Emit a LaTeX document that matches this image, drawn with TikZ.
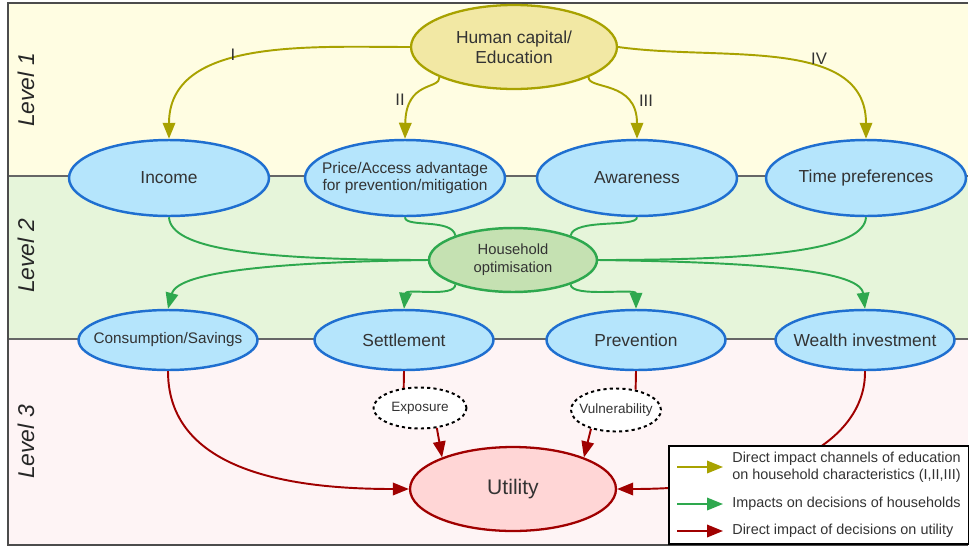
\documentclass[tikz,border=0pt]{standalone}
\usepackage{fontspec}
\setmainfont{Liberation Sans}
\usetikzlibrary{shapes.geometric,arrows.meta}
\definecolor{olivel}{HTML}{A8A200}
\definecolor{capf}{HTML}{F2E8A4}
\definecolor{greenl}{HTML}{2EA84E}
\definecolor{optf}{HTML}{C5E1B2}
\definecolor{redl}{HTML}{A00000}
\definecolor{utilf}{HTML}{FFD6D6}
\definecolor{bluel}{HTML}{1F6FD0}
\definecolor{bluef}{HTML}{B5E5FC}
\definecolor{bandI}{HTML}{FFFDE2}
\definecolor{bandII}{HTML}{E6F5DA}
\definecolor{bandIII}{HTML}{FEF4F5}
\definecolor{txt}{HTML}{333333}
\tikzstyle{yarr}=[draw=olivel, line width=1.1pt, -{Triangle[length=0.32cm,width=0.25cm]}]
\tikzstyle{gline}=[draw=greenl, line width=1.1pt]
\tikzstyle{garr}=[gline, -{Triangle[length=0.32cm,width=0.25cm]}]
\tikzstyle{rline}=[draw=redl, line width=1.1pt]
\tikzstyle{rarr}=[rline, -{Triangle[length=0.32cm,width=0.25cm]}]
\tikzstyle{oval}=[ellipse, inner ysep=0pt, inner xsep=-9pt, align=center, text=txt]

\begin{document}
\begin{tikzpicture}[x=0.02cm, y=0.02cm,
	hcap/.style={oval, draw=olivel, fill=capf, line width=1.3pt, minimum width=4.12cm, minimum height=1.68cm, font=\fontsize{9.9}{11.6}\selectfont},
	hhchar/.style={oval, draw=bluel, fill=bluef, line width=1.4pt, minimum width=4cm, minimum height=1.52cm, font=\fontsize{9.9}{11}\selectfont},
	decis/.style={oval, draw=bluel, fill=bluef, line width=1.4pt, minimum width=3.58cm, minimum height=1.2cm, font=\fontsize{9.9}{11}\selectfont},
	hopt/.style={oval, draw=greenl, fill=optf, line width=1.4pt, minimum width=3.36cm, minimum height=1.28cm, font=\fontsize{8.4}{10.2}\selectfont},
	link/.style={oval, draw=black, fill=white, line width=1.1pt, dash pattern=on 1.8pt off 1.8pt, minimum width=1.86cm, minimum height=0.82cm, font=\fontsize{7.7}{9}\selectfont},
	util/.style={oval, draw=redl, fill=utilf, line width=1.3pt, minimum width=4.12cm, minimum height=1.68cm, font=\fontsize{12}{14}\selectfont},
	lvl/.style={rotate=90, text=black!85, font=\fontsize{13}{15}\selectfont\itshape},
	chan/.style={text=txt, font=\fontsize{9.5}{11}\selectfont},
	legtxt/.style={anchor=west, inner sep=0pt, align=left, text=txt, font=\fontsize{8.2}{9.8}\selectfont}]
	\useasboundingbox (0,0) rectangle (969,-548);
	\fill[bandI] (8,-3) rectangle (968,-176);
	\fill[bandII] (8,-176) rectangle (968,-339);
	\fill[bandIII] (8,-339) rectangle (968,-545);
	\draw[black!60, line width=0.8pt] (8,-176) -- (968,-176) (8,-339) -- (968,-339);
	\draw[black!70, line width=0.8pt] (968,-3) -- (8,-3) -- (8,-545) -- (968,-545);
	\node[lvl] (l1) at (26,-90) {Level 1};
	\node[lvl] (l2) at (26,-256) {Level 2};
	\node[lvl] (l3) at (26,-442) {Level 3};

	\node[hcap] (hc) at (514,-47) {Human capital/\\Education};
	\node[hhchar] (inc) at (169,-178) {Income};
	\node[hhchar, font=\fontsize{8.8}{10.2}\selectfont] (pac) at (405,-178) {Price/Access advantage\\for prevention/mitigation};
	\node[hhchar] (aw) at (637,-178) {Awareness};
	\node[hhchar] (tp) at (866,-178) {Time preferences};
	\node[hopt] (ho) at (513,-260) {Household\\optimisation};
	\node[decis, font=\fontsize{8.7}{10}\selectfont] (cs) at (168,-340) {Consumption/Savings};
	\node[decis] (set) at (404,-340) {Settlement};
	\node[decis] (prv) at (636,-340) {Prevention};
	\node[decis] (wi) at (865,-340) {Wealth investment};
	\node[link] (exp) at (420,-408) {Exposure};
	\node[link, minimum width=1.8cm, minimum height=0.86cm] (vul) at (616,-410) {Vulnerability};
	\node[util] (ut) at (513,-489) {Utility};

	\draw [yarr] (hc.west) to[out=180, in=90] (inc.north);
	\draw [yarr] (hc.202) .. controls (440,-90) and (406,-80) .. (pac.north);
	\draw [yarr] (hc.338) .. controls (588,-90) and (637,-80) .. (aw.north);
	\draw [yarr] (hc.east) to[out=-8, in=90] (tp.north);
	\node[chan] (cI) at (233,-55) {I};
	\node[chan] (cII) at (400,-100) {II};
	\node[chan] (cIII) at (646,-101) {III};
	\node[chan] (cIV) at (819,-59) {IV};

	\draw [gline] (inc.south) .. controls (171,-248) and (250,-260) .. (ho.west);
	\draw [gline] (pac.south) .. controls (405,-228) and (452,-218) .. (ho.157);
	\draw [gline] (aw.south) .. controls (637,-228) and (574,-218) .. (ho.23);
	\draw [gline] (tp.south) .. controls (864,-248) and (780,-260) .. (ho.east);
	\draw [garr] (ho.west) .. controls (290,-262) and (178,-270) .. (cs.north);
	\draw [garr] (ho.203) .. controls (455,-298) and (406,-288) .. (set.north);
	\draw [garr] (ho.337) .. controls (571,-298) and (636,-288) .. (prv.north);
	\draw [garr] (ho.east) .. controls (736,-262) and (860,-268) .. (wi.north);

	\draw [rarr] (cs.south) to[out=-90, in=180] (ut.west);
	\draw [rline] (set.south) to (exp.129);
	\draw [rarr] (exp.-50) to (ut.156);
	\draw [rline] (prv.south) to (vul.46);
	\draw [rarr] (vul.217) to (ut.24);
	\draw [rarr] (wi.south) .. controls (866,-430) and (800,-489) .. (ut.east);

	\node[draw=black, fill=white, line width=1.2pt, anchor=north west, minimum width=6cm, minimum height=1.96cm, inner sep=0pt] (leg) at (668,-445) {};
	\node[legtxt] (t1) at (732,-467) {Direct impact channels of education\\on household characteristics (I,II,III)};
	\node[legtxt] (t2) at (732,-504) {Impacts on decisions of households};
	\node[legtxt] (t3) at (732,-531) {Direct impact of decisions on utility};
	\coordinate (k1) at (677,-467);
	\coordinate (k2) at (677,-504);
	\coordinate (k3) at (677,-531);
	\draw [yarr, shorten >=0.18cm] (k1) to (k1 -| t1.west);
	\draw [garr, shorten >=0.18cm] (k2) to (k2 -| t2.west);
	\draw [rarr, shorten >=0.18cm] (k3) to (k3 -| t3.west);
\end{tikzpicture}
\end{document}
